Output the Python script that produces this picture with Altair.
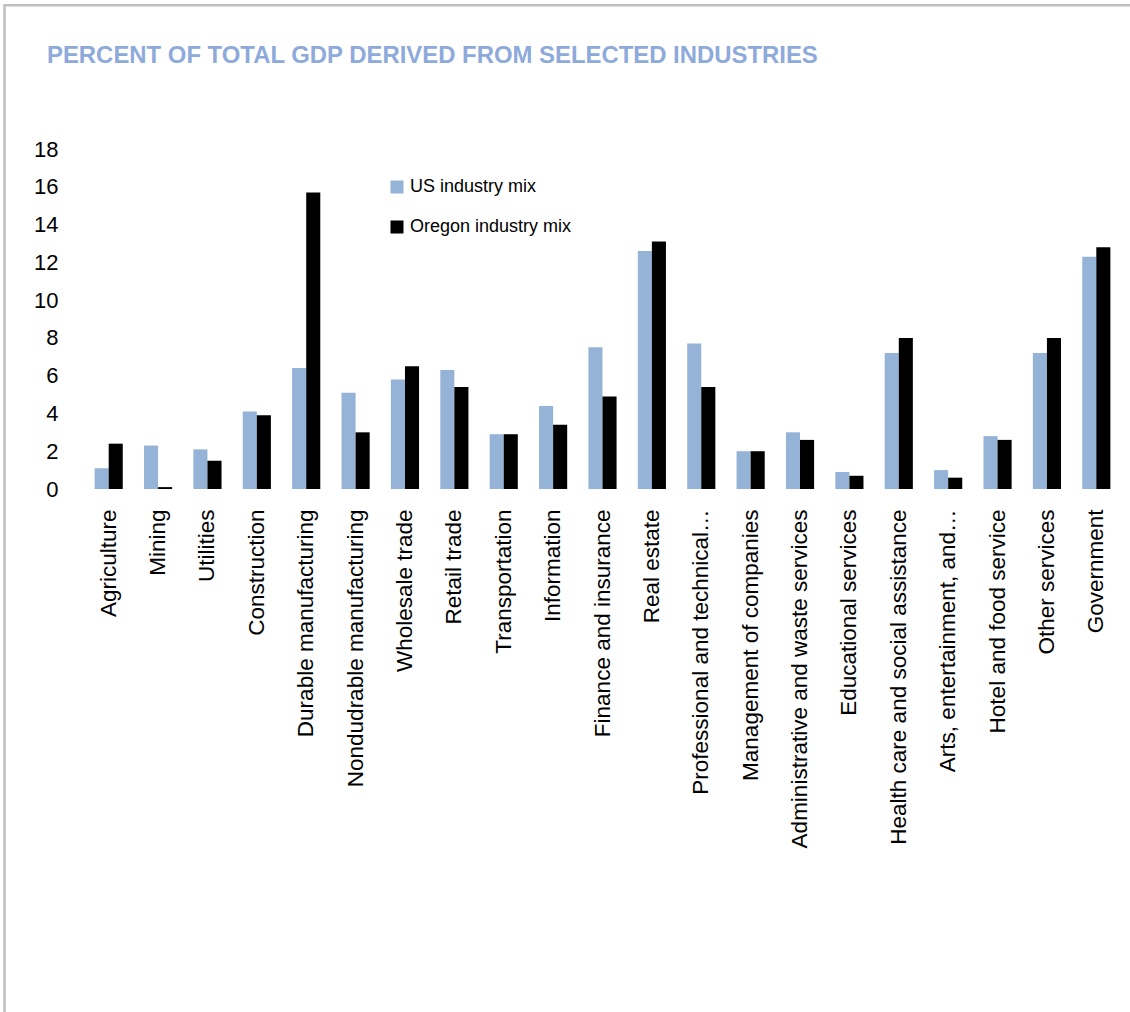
import altair as alt
import pandas as pd

categories = [
    "Agriculture", "Mining", "Utilities", "Construction", "Durable manufacturing",
    "Nondudrable manufacturing", "Wholesale trade", "Retail trade", "Transportation",
    "Information", "Finance and insurance", "Real estate", "Professional and technical\u2026",
    "Management of companies", "Administrative and waste services", "Educational services",
    "Health care and social assistance", "Arts, entertainment, and\u2026",
    "Hotel and food service", "Other services", "Government",
]
us_values = [1.1, 2.3, 2.1, 4.1, 6.4, 5.1, 5.8, 6.3, 2.9, 4.4, 7.5, 12.6, 7.7,
             2.0, 3.0, 0.9, 7.2, 1.0, 2.8, 7.2, 12.3]
oregon_values = [2.4, 0.1, 1.5, 3.9, 15.7, 3.0, 6.5, 5.4, 2.9, 3.4, 4.9, 13.1, 5.4,
                 2.0, 2.6, 0.7, 8.0, 0.6, 2.6, 8.0, 12.8]
series_names = ["US industry mix", "Oregon industry  mix"]
series_colors = ["#95B3D7", "#000000"]
y_ticks = [0, 2, 4, 6, 8, 10, 12, 14, 16, 18]
title_text = "PERCENT OF TOTAL GDP DERIVED FROM SELECTED INDUSTRIES"

rows = []
for c, u, o in zip(categories, us_values, oregon_values):
    rows.append({"industry": c, "series": series_names[0], "value": u})
    rows.append({"industry": c, "series": series_names[1], "value": o})
df = pd.DataFrame(rows)

W, H = 1037, 340
LEFT, TOP = 84, 149

bars = alt.Chart(df).mark_bar().encode(
    x=alt.X("industry:N", sort=categories, title=None,
            scale=alt.Scale(paddingInner=0.43, paddingOuter=0.215),
            axis=alt.Axis(labelAngle=-90, labelFont="Liberation Sans", labelFontSize=22.5,
                          labelColor="#000000", labelPadding=20, ticks=False, domain=False,
                          labelLimit=400, labelOverlap=False)),
    xOffset=alt.XOffset("series:N", sort=series_names),
    y=alt.Y("value:Q", title=None,
            scale=alt.Scale(domain=[0, 18], nice=False),
            axis=alt.Axis(values=y_ticks, labelFont="Liberation Sans", labelFontSize=22,
                          labelColor="#000000", labelPadding=26, ticks=False, domain=False,
                          grid=False)),
    color=alt.Color("series:N", sort=series_names,
                    scale=alt.Scale(domain=series_names, range=series_colors),
                    legend=alt.Legend(title=None, orient="none", legendX=304, legendY=29,
                                      symbolType="square", symbolSize=169, symbolStrokeWidth=0,
                                      labelFont="Liberation Sans", labelFontSize=18,
                                      labelColor="#000000", labelOffset=4, rowPadding=22,
                                      labelLimit=400, padding=0, direction="vertical")),
)

one = pd.DataFrame({"k": [0]})

title = alt.Chart(one).mark_text(
    text=title_text, align="left", baseline="middle", font="Liberation Sans",
    fontWeight="bold", fontSize=23.9, color="#8EAADB",
).encode(x=alt.value(47 - LEFT), y=alt.value(56 - TOP))

frame_top = alt.Chart(one).mark_rule(color="#BFBFBF", strokeWidth=2.5).encode(
    x=alt.value(4.5 - LEFT), x2=alt.value(1130 - LEFT), y=alt.value(5.3 - TOP))
frame_left = alt.Chart(one).mark_rule(color="#BFBFBF", strokeWidth=2.5).encode(
    x=alt.value(4.5 - LEFT), y=alt.value(4 - TOP), y2=alt.value(1012 - TOP))

chart = alt.layer(bars, title, frame_top, frame_left).properties(
    width=W, height=H,
    autosize=alt.AutoSizeParams(type="none"),
    padding={"left": LEFT, "top": TOP, "right": 1130 - LEFT - W, "bottom": 1012 - TOP - H},
    background="white",
).configure_view(stroke=None)

chart.save("out.html", embed_options={"renderer": "svg", "actions": False})
